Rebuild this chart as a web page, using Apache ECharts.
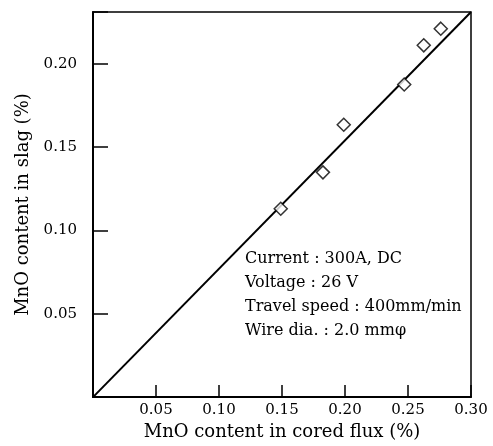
<!DOCTYPE html>
<html><head><meta charset="utf-8">
<script src="https://cdn.jsdelivr.net/npm/echarts@6/dist/echarts.min.js"></script>
<style>html,body{margin:0;padding:0;background:#fff}#c{width:493px;height:446px}</style>
</head><body><div id="c"></div>
<script>
const fluxMnO = [0.149, 0.1825, 0.199, 0.247, 0.2625, 0.276];
const slagMnO = [0.113, 0.1348, 0.1634, 0.1875, 0.211, 0.221];
const fitLineX = [0, 0.30];
const fitLineY = [0, 0.231];
const xTicks = [0.05, 0.10, 0.15, 0.20, 0.25, 0.30];
const yTicks = [0.05, 0.10, 0.15, 0.20];
const notes = ["Current : 300A, DC", "Voltage : 26 V", "Travel speed : 400mm/min", "Wire dia. : 2.0 mm\u03C6"];

const F = '"DejaVu Serif", "Liberation Serif", serif';
const chart = echarts.init(document.getElementById('c'));
const fmt = (ticks) => (v) => {
  const t = ticks.find(t => Math.abs(t - v) < 1e-6);
  return t !== undefined ? t.toFixed(2) : '';
};
chart.setOption({
  animation: false,
  backgroundColor: '#fff',
  grid: { left: 93, right: 22, top: 12, bottom: 46, show: true, borderColor: '#000', borderWidth: 1.5 },
  xAxis: {
    type: 'value', min: 0, max: 0.30, interval: 0.05,
    name: 'MnO content in cored flux (%)', nameLocation: 'middle', nameGap: 25,
    nameTextStyle: { fontFamily: F, fontSize: 18, color: '#000' },
    axisLine: { lineStyle: { color: '#000', width: 2 } },
    axisTick: { inside: true, length: 12, lineStyle: { color: '#000', width: 1.5 } },
    axisLabel: { formatter: fmt(xTicks), fontFamily: F, fontSize: 15, color: '#000', margin: 6 },
    splitLine: { show: false }
  },
  yAxis: {
    type: 'value', min: 0, max: 0.231, interval: 0.05,
    name: 'MnO content in slag (%)', nameLocation: 'middle', nameGap: 59,
    nameTextStyle: { fontFamily: F, fontSize: 18, color: '#000' },
    axisLine: { lineStyle: { color: '#000', width: 2 } },
    axisTick: { inside: true, length: 15, lineStyle: { color: '#000', width: 1.5 } },
    axisLabel: { formatter: fmt(yTicks), fontFamily: F, fontSize: 15, color: '#000', margin: 16 },
    splitLine: { show: false }
  },
  series: [
    {
      type: 'line', data: fitLineX.map((x, i) => [x, fitLineY[i]]),
      symbol: 'none', lineStyle: { color: '#000', width: 2 }, silent: true
    },
    {
      type: 'scatter', data: fluxMnO.map((x, i) => [x, slagMnO[i]]),
      symbol: 'diamond', symbolSize: [13, 13],
      itemStyle: { color: '#fff', borderColor: '#000', borderWidth: 1.5 }, z: 5
    }
  ],
  graphic: notes.map((t, i) => ({
    type: 'text', left: 245, top: 251 + i * 24,
    style: { text: t, font: '16px ' + F, fill: '#000' }
  }))
});
</script></body></html>
